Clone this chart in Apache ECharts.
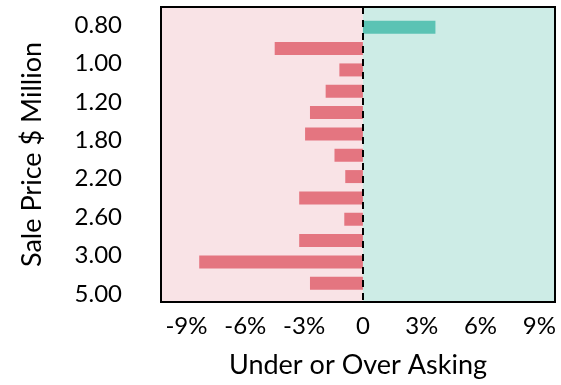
<!DOCTYPE html>
<html><head><meta charset="utf-8">
<script src="https://cdn.jsdelivr.net/npm/echarts@6/dist/echarts.min.js"></script>
<style>html,body{margin:0;padding:0;background:#fff}#c{width:561px;height:385px}</style>
</head><body><div id="c"></div>
<script>
// Data
var barValues = [3.7, -4.5, -1.2, -1.9, -2.7, -2.95, -1.45, -0.9, -3.25, -0.95, -3.25, -8.35, -2.7];
var yTickLabels = ['0.80', '1.00', '1.20', '1.80', '2.20', '2.60', '3.00', '5.00'];
var xTicks = [-9, -6, -3, 0, 3, 6, 9];
var xMin = -10.3, xMax = 9.8;

var FONT = 'Lato';
var barIdx = barValues.map(function (_, i) { return i; });
var yTickPos = yTickLabels.map(function (_, i) { return i; });

var chart = echarts.init(document.getElementById('c'));
chart.setOption({
  animation: false,
  textStyle: { fontFamily: FONT },
  grid: [
    { left: 161, right: 6, top: 7, bottom: 83, show: true, borderColor: '#000', borderWidth: 2, backgroundColor: 'transparent', z: 5 },
    { left: 161, right: 6, top: 16.6, height: 277.3 }
  ],
  xAxis: [
    {
      gridIndex: 0, type: 'value', min: xMin, max: xMax,
      splitLine: { show: false }, axisLine: { show: false }, axisTick: { show: false },
      axisLabel: {
        customValues: xTicks, color: '#000', fontSize: 24, fontFamily: FONT, margin: 12,
        formatter: function (v) { return v === 0 ? '0' : v + '%'; }
      },
      name: 'Under or Over Asking', nameLocation: 'middle', nameGap: 50,
      nameTextStyle: { color: '#000', fontSize: 27, fontFamily: FONT }
    },
    {
      gridIndex: 1, type: 'value', min: xMin, max: xMax, show: false,
      splitLine: { show: false }
    }
  ],
  yAxis: [
    {
      gridIndex: 0, type: 'value', inverse: true, min: -0.47, max: 7.21,
      splitLine: { show: false }, axisLine: { show: false }, axisTick: { show: false },
      axisLabel: {
        customValues: yTickPos, color: '#000', fontSize: 24, fontFamily: FONT, margin: 39,
        formatter: function (v) { return yTickLabels[Math.round(v)] || ''; }
      },
      name: 'Sale Price $ Million', nameLocation: 'middle', nameGap: 115,
      nameTextStyle: { color: '#000', fontSize: 27, fontFamily: FONT }
    },
    {
      gridIndex: 1, type: 'category', inverse: true, data: barIdx, show: false
    }
  ],
  series: [
    {
      type: 'scatter', xAxisIndex: 0, yAxisIndex: 0, data: [], z: 1, silent: true,
      markArea: {
        silent: true,
        data: [
          [{ coord: [xMin, -0.47], itemStyle: { color: '#f9e3e6' } }, { coord: [0, 7.21] }],
          [{ coord: [0, -0.47], itemStyle: { color: '#cdece6' } }, { coord: [xMax, 7.21] }]
        ]
      },
      markLine: {
        silent: true, symbol: 'none', label: { show: false },
        lineStyle: { color: '#000', width: 2, type: [7, 6] },
        data: [{ xAxis: 0 }]
      }
    },
    {
      type: 'bar', xAxisIndex: 1, yAxisIndex: 1, barWidth: 13, z: 3,
      data: barValues.map(function (v) {
        return { value: v, itemStyle: { color: v >= 0 ? '#5bc3b4' : '#e47580' } };
      })
    }
  ]
});
</script></body></html>
